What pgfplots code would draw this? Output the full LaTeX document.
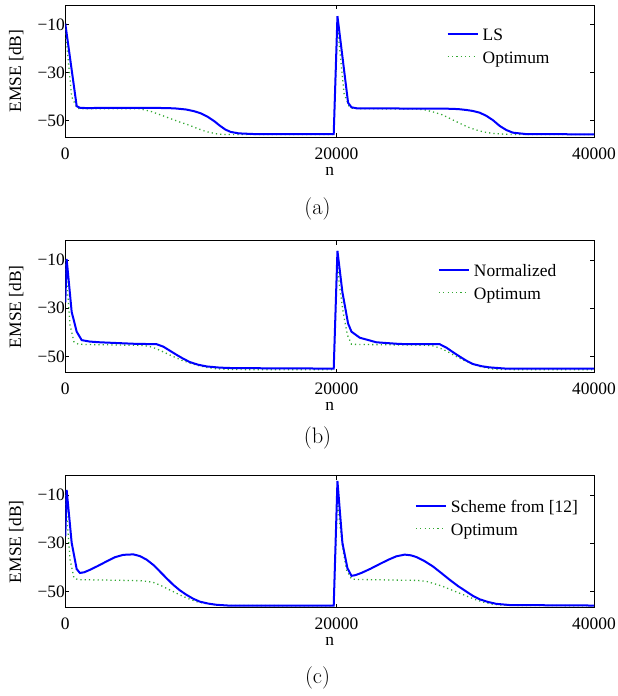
\documentclass[border=0pt]{standalone}
\usepackage{fontspec}
\usepackage{pgfplots}
\pgfplotsset{compat=1.18}
\newfontfamily\tnr{Liberation Serif}
\newcommand\axfont{\tnr\fontsize{17.5}{21}\selectfont}
% uniform row height for legend entries: 13bp above, 4bp below the baseline
\newcommand\lstrut{\rule[-4bp]{0pt}{17bp}}

\definecolor{optgreen}{rgb}{0.2,0.66,0.2}

\pgfplotsset{
  blueline/.style={blue, line width=2bp},
  greendot/.style={optgreen, line width=1.3bp, dash pattern=on 1.2bp off 3.1bp},
  emse/.style={
    scale only axis, width=528.7bp, height=132bp,
    xmin=0, xmax=39000, ymin=-56.7, ymax=-2,
    scaled x ticks=false,
    xtick={0,20000,39000}, xticklabels={0,20000,40000},
    ytick={-50,-30,-10}, yticklabels={−50,−30,−10},
    tick align=inside, xtick pos=both, ytick pos=both,
    major tick length=4bp,
    axis line style={line width=0.9bp},
    every tick/.style={black, line width=0.8bp},
    tick label style={font=\axfont},
    label style={font=\axfont},
    xticklabel style={anchor=base, yshift=-22bp},
    yticklabel style={xshift=3bp},
    xlabel={n}, ylabel={EMSE [dB]},
    xlabel style={at={(axis description cs:0.5,0)}, anchor=base, yshift=-38bp},
    ylabel style={at={(axis description cs:-0.0724,0.5)}, anchor=south},
    legend cell align=left,
    legend image code/.code={\draw[##1] (0bp,1.2bp) -- (30bp,1.2bp);},
    legend style={draw=none, fill=none, inner sep=0pt, outer sep=0pt,
      row sep=8bp, column sep=4bp, nodes={inner sep=0pt, outer sep=0pt},
      font=\axfont, anchor=north west},
  }
}

\begin{document}
\begin{tikzpicture}
\useasboundingbox (0,0) rectangle (618bp,-696bp);

% (a) LS step size
\begin{axis}[emse, at={(65.3bp,-5bp)}, anchor=north west,
  legend style={at={(axis description cs:0.7214,0.8274)}}]
\addlegendimage{blueline}\addlegendentry{\lstrut LS}
\addlegendimage{greendot}\addlegendentry{\lstrut Optimum}
\addplot[greendot, forget plot] coordinates {
(0,-12) (470,-40) (870,-44.8) (1200,-45.0) (5500,-45.0) (6370,-46.2) (7000,-47.5)
(7720,-49.0) (8450,-50.5) (9190,-51.9) (9800,-53.3) (10420,-54.5) (11260,-55.5)
(12000,-55.7) (19800,-55.7) (20075,-11) (20370,-27.6) (20560,-38.6) (20930,-43.9)
(21200,-44.8) (22000,-45.0) (26000,-45.1) (26640,-45.6) (27250,-46.5) (27860,-47.6)
(28470,-49.3) (29090,-51.0) (29700,-52.6) (30320,-53.8) (30930,-54.7) (31540,-55.2)
(32500,-55.6) (39000,-55.7)};
\addplot[blueline, forget plot] coordinates {
(0,-9.7) (840,-43.9) (1080,-44.6) (1500,-44.7) (5000,-44.6) (7500,-44.7)
(8200,-44.9) (8900,-45.3) (9500,-46.0) (10000,-46.9) (10500,-48.3) (11000,-50.2)
(11400,-52.0) (11800,-53.6) (12200,-54.6) (12800,-55.2) (14000,-55.5) (19800,-55.5)
(20075,-6.6) (20860,-42.5) (21110,-44.4) (21500,-44.8) (28500,-45.0) (29090,-45.2)
(29580,-45.5) (30060,-45.9) (30560,-46.6) (31050,-47.9) (31540,-49.7) (32040,-52.1)
(32530,-53.8) (33020,-54.9) (34000,-55.5) (39000,-55.6)};
\end{axis}
\node[font=\fontsize{22.5}{27}\selectfont] at (317.5bp,-208.5bp) {(a)};

% (b) normalized step size
\begin{axis}[emse, at={(65.3bp,-240.7bp)}, anchor=north west,
  legend style={at={(axis description cs:0.7049,0.8252)}}]
\addlegendimage{blueline}\addlegendentry{\lstrut Normalized}
\addlegendimage{greendot}\addlegendentry{\lstrut Optimum}
\addplot[greendot, forget plot] coordinates {
(0,-10) (350,-37) (640,-43.9) (960,-44.9) (1500,-45.0) (5750,-45.4) (6250,-45.9)
(6740,-46.8) (7350,-48.4) (7960,-50.0) (8570,-51.5) (9190,-52.7) (9800,-53.7)
(10420,-54.5) (11150,-55.1) (12000,-55.4) (19800,-55.5) (20075,-10) (20190,-19)
(20490,-31.5) (20810,-41.1) (21110,-44.9) (21600,-45.0) (26500,-45.3) (27130,-45.6)
(27620,-46.5) (28110,-47.7) (28720,-49.6) (29330,-51.4) (29950,-52.9) (30560,-54.1)
(31300,-55.0) (32000,-55.4) (39000,-55.5)};
\addplot[blueline, forget plot] coordinates {
(0,-27.5) (100,-9.6) (470,-31.5) (840,-39.7) (1210,-43.2) (1800,-43.8) (2560,-44.1)
(5010,-44.7) (6740,-44.9) (7230,-45.9) (7720,-47.6) (8210,-49.3) (8700,-50.9)
(9190,-52.3) (9800,-53.4) (10420,-54.1) (11400,-54.6) (12380,-54.8) (19800,-55.0)
(20075,-6.2) (20440,-23.3) (20860,-36.3) (21110,-39.7) (21720,-42.2) (22950,-44.1)
(24670,-44.8) (27620,-44.9) (28110,-46.3) (28600,-48.2) (29090,-50.0) (29580,-51.7)
(30070,-53.1) (30700,-54.0) (31300,-54.5) (32500,-55.0) (39000,-55.0)};
\end{axis}
\node[font=\fontsize{22.5}{27}\selectfont] at (317.5bp,-437.5bp) {(b)};

% (c) scheme from [12]
\begin{axis}[emse, at={(65.3bp,-475.7bp)}, anchor=north west,
  legend style={at={(axis description cs:0.6614,0.8176)}}]
\addlegendimage{blueline}\addlegendentry{\lstrut Scheme from [12]}
\addlegendimage{greendot}\addlegendentry{\lstrut Optimum}
\addplot[greendot, forget plot] coordinates {
(0,-10) (350,-36.8) (640,-44.4) (960,-45.1) (1500,-45.1) (5500,-45.5) (6000,-45.8)
(6490,-46.2) (6970,-47.3) (7440,-48.6) (7950,-50.0) (8450,-51.4) (9060,-52.9)
(9680,-54.2) (10400,-55.0) (11200,-55.6) (12000,-55.8) (19800,-55.9) (20075,-12)
(20190,-18.7) (20440,-31.2) (20740,-41.0) (21110,-44.8) (21600,-45.0) (26000,-45.4)
(26640,-45.8) (27250,-46.8) (27860,-47.9) (28470,-49.3) (29090,-50.7) (29700,-52.1)
(30320,-53.5) (30930,-54.5) (31540,-55.3) (32500,-55.7) (39000,-55.9)};
\addplot[blueline, forget plot] coordinates {
(0,-27.1) (100,-7.9) (470,-29.8) (840,-40.7) (1080,-42.3) (1400,-42.0) (1820,-41.0)
(2400,-39.4) (3050,-37.5) (3650,-35.8) (4270,-34.8) (5010,-34.6) (5500,-35.3)
(6000,-36.8) (6500,-39.0) (6980,-41.7) (7470,-44.5) (7960,-47.2) (8450,-49.5)
(8950,-51.4) (9440,-53.0) (9930,-54.2) (10550,-55.0) (11160,-55.5) (12000,-55.8)
(19800,-55.8) (20075,-4.2) (20440,-29.8) (20810,-40.3) (21110,-43.5) (21400,-43.2)
(21840,-42.3) (22500,-40.6) (23190,-38.6) (23800,-36.9) (24420,-35.4) (25040,-34.7)
(25500,-35.0) (25900,-35.7) (26500,-37.4) (27120,-39.6) (27730,-42.3) (28350,-45.1)
(28960,-47.7) (29580,-50.0) (30070,-51.8) (30560,-53.2) (31170,-54.3) (31790,-55.1)
(32800,-55.6) (39000,-55.8)};
\end{axis}
\node[font=\fontsize{22.5}{27}\selectfont] at (317.5bp,-677.5bp) {(c)};
\end{tikzpicture}
\end{document}
